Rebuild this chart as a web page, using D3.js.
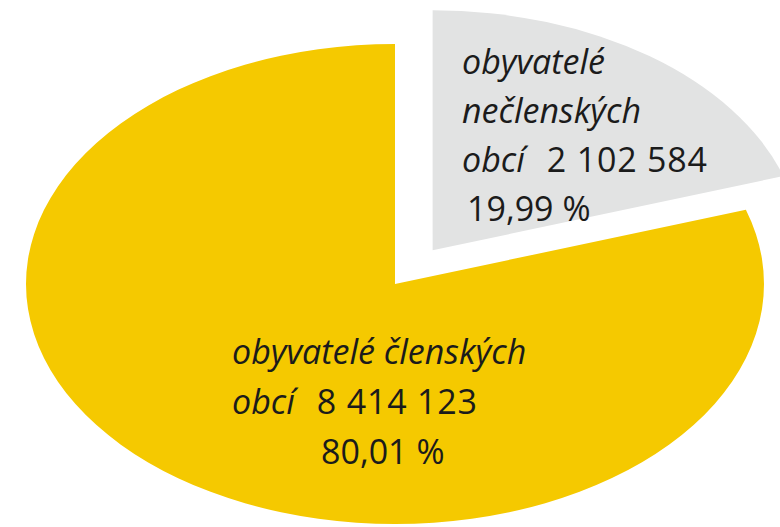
<!DOCTYPE html>
<html><head><meta charset="utf-8">
<script src="https://cdn.jsdelivr.net/npm/d3@7"></script>
<style>
html,body{margin:0;padding:0;background:#fff;}
svg{display:block;}
text{font-family:"Open Sans","Noto Sans",sans-serif;fill:#1b1b1b;}
</style></head>
<body>
<svg id="chart" width="780" height="527"></svg>
<script>
// ---- data ----
const categories = ["obyvatelé nečlenských obcí", "obyvatelé členských obcí"];
const values = [2102584, 8414123];
const colors = ["#e2e3e3", "#f5c900"];
const labelLines = [["obyvatelé", "nečlenských", "obcí"], ["obyvatelé členských", "obcí"]];
const exploded = [true, false];

// ---- layout ----
const W = 780, H = 527;
const cx = 395, cy = 284, rx = 369, ry = 240;
const explodeDist = 64;

const locale = d3.formatLocale({decimal: ",", thousands: "\u00a0", grouping: [3], currency: ["", ""]});
const fmtNum = locale.format(",d");
const fmtPct = locale.format(".2f");
const total = d3.sum(values);

const svg = d3.select("#chart");
const pie = d3.pie().sort(null).value(d => d)(values);
const arc = d3.arc().innerRadius(0).outerRadius(rx);

const g = svg.append("g").attr("transform", `translate(${cx},${cy}) scale(1,${ry / rx})`);

g.selectAll("path").data(pie).join("path")
  .attr("d", arc)
  .attr("fill", (d, i) => colors[i])
  .attr("transform", (d, i) => {
    if (!exploded[i]) return null;
    const a = (d.startAngle + d.endAngle) / 2;
    return `translate(${Math.sin(a) * explodeDist},${-Math.cos(a) * explodeDist})`;
  });

// ---- labels ----
const fs = 34;
const lab = svg.append("g").attr("font-size", fs);

function label(i, x, y, lineH, pctX) {
  const lines = labelLines[i];
  const t = lab.append("g");
  lines.forEach((ln, k) => {
    const txt = t.append("text").attr("x", x).attr("y", y + k * lineH);
    txt.append("tspan").attr("font-style", "italic").text(ln);
    if (k === lines.length - 1) {
      txt.append("tspan").attr("dx", 22).attr("letter-spacing", 0.8).text(fmtNum(values[i]));
    }
  });
  t.append("text").attr("x", pctX).attr("y", y + lines.length * lineH)
    .text(fmtPct(values[i] / total * 100) + " %");
}
label(0, 462, 74, 49, 467);
label(1, 232, 364, 50, 321);
</script>
</body></html>
